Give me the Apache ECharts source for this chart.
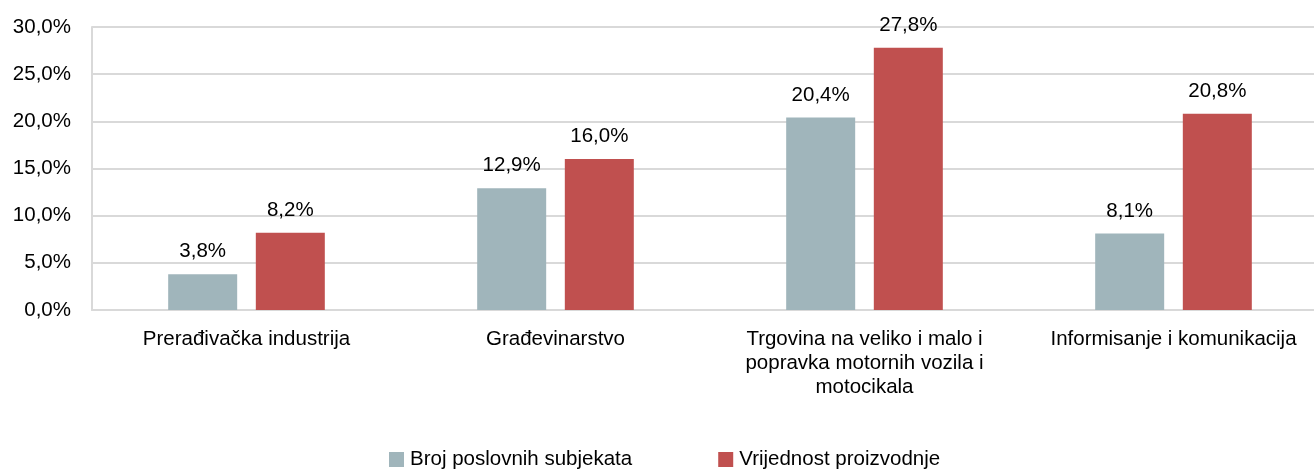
<!DOCTYPE html>
<html><head><meta charset="utf-8">
<script src="https://cdn.jsdelivr.net/npm/echarts@6/dist/echarts.min.js"></script>
<style>html,body{margin:0;padding:0;background:#fff;overflow:hidden;width:1314px;height:472px}#c{width:1330px;height:472px}</style>
</head><body><div id="c"></div>
<script>
const categories = ['Prerađivačka industrija', 'Građevinarstvo', 'Trgovina na veliko i malo i\npopravka motornih vozila i\nmotocikala', 'Informisanje i komunikacija'];
const seriesNames = ['Broj poslovnih subjekata', 'Vrijednost proizvodnje'];
const brojPoslovnihSubjekata = [3.8, 12.9, 20.4, 8.1];
const vrijednostProizvodnje = [8.2, 16.0, 27.8, 20.8];
const colors = ['#a0b5bb', '#c0504f'];
const fmt = v => v.toFixed(1).replace('.', ',') + '%';
const font = 'Liberation Sans, Arial, sans-serif';
const fs = 20.5;
const chart = echarts.init(document.getElementById('c'), null, {renderer: 'canvas'});
chart.setOption({
  animation: false,
  textStyle: {fontFamily: font},
  grid: {left: 92, right: 2, top: 27, bottom: 162},
  legend: {
    top: 444, left: 384, itemWidth: 15, itemHeight: 15, itemGap: 86, icon: 'rect',
    textStyle: {fontFamily: font, fontSize: fs, color: '#000', padding: [0,0,0,1]},
    data: seriesNames
  },
  xAxis: {
    type: 'category', data: categories,
    axisLine: {lineStyle: {color: '#d9d9d9', width: 2}},
    axisTick: {show: false},
    axisLabel: {color: '#000', fontSize: fs, fontFamily: font, margin: 17, lineHeight: 24, interval: 0}
  },
  yAxis: {
    type: 'value', min: 0, max: 30, interval: 5,
    axisLine: {show: true, lineStyle: {color: '#d9d9d9', width: 2}},
    splitLine: {lineStyle: {color: '#d9d9d9', width: 2}},
    axisLabel: {color: '#000', fontSize: fs, fontFamily: font, margin: 21, formatter: v => fmt(v)}
  },
  series: [
    {name: seriesNames[0], type: 'bar', data: brojPoslovnihSubjekata, barWidth: 69, barGap: '27%',
     itemStyle: {color: colors[0]},
     label: {show: true, position: 'top', distance: 12, color: '#000', fontSize: fs, fontFamily: font, formatter: p => fmt(p.value)}},
    {name: seriesNames[1], type: 'bar', data: vrijednostProizvodnje, barWidth: 69,
     itemStyle: {color: colors[1]},
     label: {show: true, position: 'top', distance: 12, color: '#000', fontSize: fs, fontFamily: font, formatter: p => fmt(p.value)}}
  ]
});
</script></body></html>
